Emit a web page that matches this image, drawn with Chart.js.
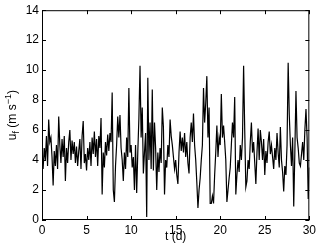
<!DOCTYPE html>
<html>
<head>
<meta charset="utf-8">
<script src="https://cdn.jsdelivr.net/npm/chart.js@4/dist/chart.umd.min.js"></script>
<style>
  html, body { margin: 0; padding: 0; background: #fff; }
  canvas { display: block; }
</style>
</head>
<body>
<canvas id="chart" width="319" height="248"></canvas>
<script>
// friction velocity series, 8 samples per day
const sampleStep = 0.125; // days
const ufValues = [
  // day 0
  4.4, 3.4, 4.8, 4.0, 5.6, 3.6, 6.7, 5.2,
  // day 1
  5.5, 4.2, 2.3, 4.6, 3.6, 5.0, 3.4, 6.9,
  // day 2
  5.0, 3.8, 5.4, 4.2, 5.6, 2.6, 4.8, 3.8,
  // day 3
  5.2, 6.0, 4.0, 5.3, 4.4, 5.2, 3.8, 4.9,
  // day 4
  3.6, 4.6, 5.4, 3.4, 5.6, 6.6, 3.8, 4.4,
  // day 5
  3.3, 4.8, 4.0, 5.2, 3.6, 5.5, 4.4, 5.9,
  // day 6
  4.2, 5.4, 3.6, 5.6, 4.8, 6.8, 1.7, 4.5,
  // day 7
  3.5, 5.2, 4.3, 5.7, 4.6, 5.8, 5.2, 8.5,
  // day 8
  2.0, 1.2, 3.6, 5.0, 6.9, 5.5, 7.0, 4.8,
  // day 9
  4.0, 2.6, 4.5, 3.4, 5.5, 4.2, 8.8, 4.5,
  // day 10
  5.0, 3.5, 4.2, 2.0, 5.0, 1.8, 4.5, 6.8,
  // day 11
  10.3, 5.5, 7.5, 3.1, 4.5, 5.8, 0.2, 9.5,
  // day 12
  4.0, 6.5, 3.4, 8.7, 3.3, 6.5, 4.8, 2.0,
  // day 13
  4.5, 3.2, 4.8, 3.8, 7.5, 6.2, 1.7, 4.0,
  // day 14
  3.5, 5.0, 4.2, 6.7, 5.6, 5.0, 4.2, 3.4,
  // day 15
  4.0, 3.0, 2.4, 4.5, 5.9, 4.6, 5.5, 4.5,
  // day 16
  5.8, 4.2, 5.2, 3.8, 3.1, 5.5, 6.5, 5.2,
  // day 17
  7.1, 5.0, 4.0, 2.5, 0.8, 2.0, 2.8, 4.0,
  // day 18
  5.0, 8.8, 6.5, 7.8, 9.6, 5.5, 7.5, 1.1,
  // day 19
  1.1, 1.6, 1.1, 3.0, 4.5, 6.3, 4.2, 5.5,
  // day 20
  5.0, 8.4, 5.5, 6.3, 5.2, 4.0, 1.2, 2.0,
  // day 21
  2.8, 3.5, 5.0, 6.5, 5.5, 8.2, 1.7, 3.0,
  // day 22
  4.0, 3.2, 5.0, 4.0, 5.5, 10.3, 6.0, 2.2,
  // day 23
  2.6, 4.0, 3.4, 5.2, 6.5, 4.5, 5.2, 3.8,
  // day 24
  2.4, 4.5, 6.1, 4.0, 6.0, 5.2, 4.0, 5.4,
  // day 25
  3.0, 4.6, 3.8, 5.2, 5.9, 4.4, 5.0, 4.2,
  // day 26
  3.4, 4.8, 4.0, 5.8, 4.5, 3.5, 6.2, 4.0,
  // day 27
  3.2, 1.9, 3.6, 3.0, 5.0, 10.5, 7.0, 5.0,
  // day 28
  3.6, 5.5, 0.9, 4.5, 8.6, 5.5, 4.8, 3.8,
  // day 29
  3.6, 4.4, 5.2, 4.0, 6.0, 7.4, 5.5, 1.4,
  // day 30
  3.5
];
const xTicks = [0, 5, 10, 15, 20, 25, 30];
const yTicks = [0, 2, 4, 6, 8, 10, 12, 14];

const points = ufValues.map((v, i) => ({ x: i * sampleStep, y: v }));
const FONT = '"Liberation Sans", Arial, Helvetica, sans-serif';

// matlab-ish box with inward ticks + axis titles
const boxPlugin = {
  id: 'box',
  afterDraw(chart) {
    const { ctx, chartArea: a, scales } = chart;
    const tl = 4;
    ctx.save();
    ctx.strokeStyle = '#000';
    ctx.lineWidth = 1;
    ctx.strokeRect(a.left + 0.5, a.top + 0.5, a.right - a.left - 1, a.bottom - a.top - 1);
    ctx.beginPath();
    xTicks.forEach(t => {
      const px = Math.round(scales.x.getPixelForValue(t)) + 0.5;
      ctx.moveTo(px, a.bottom); ctx.lineTo(px, a.bottom - tl);
      ctx.moveTo(px, a.top); ctx.lineTo(px, a.top + tl);
    });
    yTicks.forEach(t => {
      const py = Math.round(scales.y.getPixelForValue(t)) + 0.5;
      ctx.moveTo(a.left, py); ctx.lineTo(a.left + tl, py);
      ctx.moveTo(a.right, py); ctx.lineTo(a.right - tl, py);
    });
    ctx.stroke();

    ctx.fillStyle = '#000';
    // x title
    ctx.font = '12px ' + FONT;
    ctx.textAlign = 'center';
    ctx.textBaseline = 'alphabetic';
    ctx.fillText('t (d)', (a.left + a.right) / 2, 240);

    // y title, rotated, with sub/superscripts
    const parts = [
      { t: 'u', size: 12, dy: 0 },
      { t: 'f', size: 9, dy: 3 },
      { t: ' (m s', size: 12, dy: 0 },
      { t: '\u22121', size: 9, dy: -5 },
      { t: ')', size: 12, dy: 0 }
    ];
    let total = 0;
    parts.forEach(p => { ctx.font = p.size + 'px ' + FONT; p.w = ctx.measureText(p.t).width; total += p.w; });
    ctx.translate(16, (a.top + a.bottom) / 2);
    ctx.rotate(-Math.PI / 2);
    ctx.textAlign = 'left';
    let x = -total / 2;
    parts.forEach(p => {
      ctx.font = p.size + 'px ' + FONT;
      ctx.fillText(p.t, x, p.dy);
      x += p.w;
    });
    ctx.restore();
  }
};

new Chart(document.getElementById('chart').getContext('2d'), {
  type: 'line',
  data: {
    datasets: [{
      data: points,
      borderColor: '#000',
      borderWidth: 1.2,
      pointRadius: 0,
      tension: 0,
      fill: false
    }]
  },
  options: {
    responsive: false,
    animation: false,
    devicePixelRatio: 1,
    layout: { padding: { top: 9, right: 9, left: 0, bottom: 0 } },
    plugins: { legend: { display: false }, tooltip: { enabled: false } },
    scales: {
      x: {
        type: 'linear',
        min: 0, max: 30,
        afterFit: s => { s.height = 28; },
        afterBuildTicks: s => { s.ticks = xTicks.map(v => ({ value: v })); },
        grid: { display: false, drawTicks: false },
        border: { display: false },
        ticks: { color: '#000', padding: 3, maxRotation: 0, font: { size: 12, family: FONT } }
      },
      y: {
        min: 0, max: 14,
        afterFit: s => { s.width = 42; },
        afterBuildTicks: s => { s.ticks = yTicks.map(v => ({ value: v })); },
        grid: { display: false, drawTicks: false },
        border: { display: false },
        ticks: { color: '#000', padding: 3, font: { size: 12, family: FONT } }
      }
    }
  },
  plugins: [boxPlugin]
});
</script>
</body>
</html>
